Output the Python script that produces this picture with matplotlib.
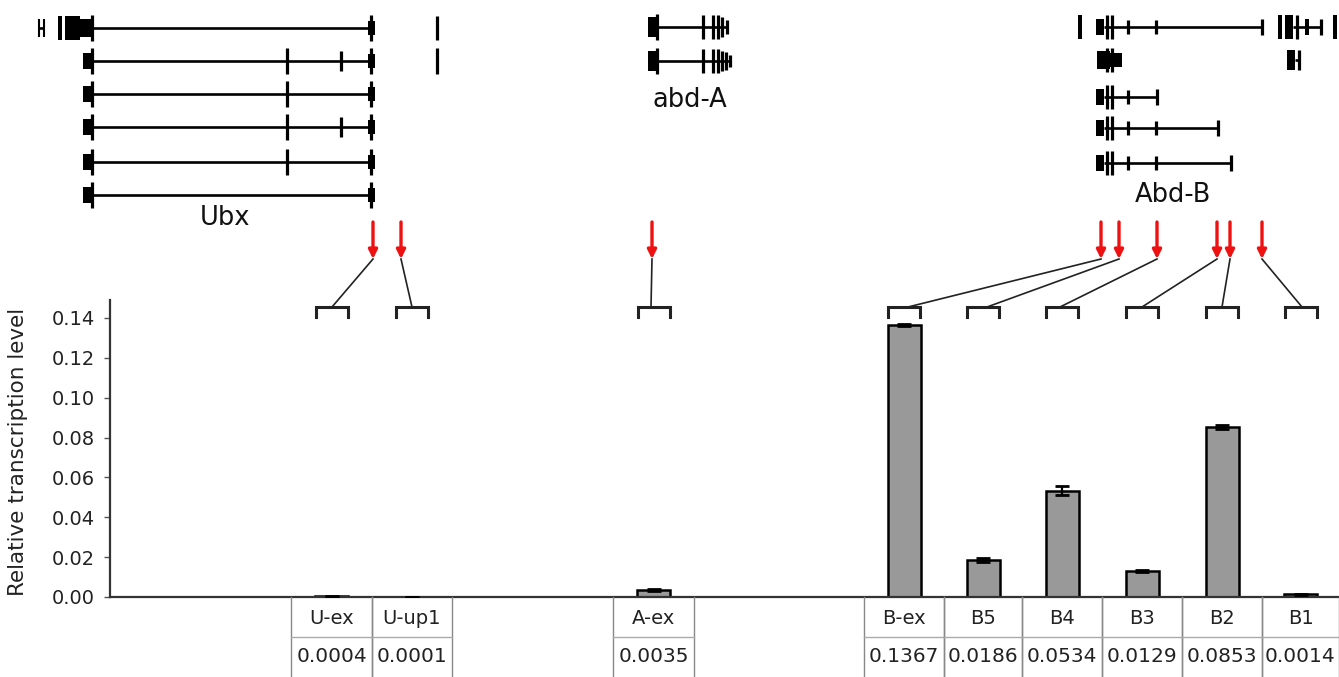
import matplotlib
matplotlib.use("Agg")
import matplotlib.pyplot as plt
from matplotlib.patches import Rectangle

W, H = 1339, 677

# data
labels = ["U-ex", "U-up1", "A-ex", "B-ex", "B5", "B4", "B3", "B2", "B1"]
values = [0.0004, 0.0001, 0.0035, 0.1367, 0.0186, 0.0534, 0.0129, 0.0853, 0.0014]
errors = [0.0002, 0.0001, 0.0006, 0.0005, 0.0009, 0.0021, 0.0004, 0.0008, 0.0002]
yticks = [0.00, 0.02, 0.04, 0.06, 0.08, 0.10, 0.12, 0.14]
ylabel = "Relative transcription level"

# layout (pixel coordinates of the figure)
col_left = [291, 372, 613, 864, 944, 1022, 1102, 1182, 1262]
col_right = [372, 452, 694, 944, 1022, 1102, 1182, 1262, 1339]
arrow_x = [373, 401, 652, 1101, 1119, 1157, 1217, 1230, 1262]
link_x = [332, 412, 651, 908, 987, 1060, 1142, 1222, 1302]
bar_w = 33
ax_left, ax_bottom, ax_top = 110, 597, 300
ymax = 0.149

# gene models: (kind, ...) per transcript row
ubx_y = [28, 61, 94, 127, 162, 195]
ubx_rows = []
for i, y in enumerate(ubx_y):
    feats = [("line", 92, 372), ("box", 83, 92, 8), ("tick", 92, 13),
             ("box", 368, 375, 7), ("tick", 371, 13)]
    if i == 0:
        feats += [("thin", 39, 9), ("thin", 44, 9), ("line", 39, 44),
                  ("box", 58, 62, 12), ("box", 65, 80, 12), ("box", 80, 92, 9),
                  ("tick", 437, 12)]
    if i == 1:
        feats += [("tick", 437, 13)]
    if 1 <= i <= 4:
        feats += [("tick", 287, 13)]
    if i in (1, 3):
        feats += [("tick", 341, 10)]
    ubx_rows.append((y, feats))

abda_rows = [
    (27, [("line", 657, 727), ("box", 648, 657, 10), ("tick", 657, 13),
          ("tick", 703, 12), ("tick", 713, 12), ("tick", 718, 12),
          ("tick", 722, 10), ("tick", 727, 7)]),
    (61, [("line", 657, 730), ("box", 648, 657, 10), ("tick", 657, 13),
          ("tick", 703, 12), ("tick", 713, 12), ("tick", 718, 12),
          ("tick", 722, 10), ("tick", 726, 9), ("tick", 730, 6)]),
]

abdb_rows = [
    (27, [("box", 1078, 1082, 12), ("line", 1104, 1262), ("box", 1096, 1104, 8),
          ("tick", 1107, 12), ("tick", 1112, 12), ("tick", 1128, 7),
          ("tick", 1156, 7), ("tick", 1262, 8), ("box", 1278, 1282, 12),
          ("box", 1285, 1293, 12), ("tick", 1297, 12), ("line", 1293, 1321),
          ("box", 1305, 1309, 8), ("tick", 1321, 8), ("box", 1333, 1337, 12)]),
    (60, [("box", 1097, 1110, 9), ("box", 1110, 1122, 7), ("tick", 1107, 12),
          ("tick", 1112, 12), ("box", 1287, 1295, 10), ("line", 1295, 1299),
          ("tick", 1299, 10)]),
]
for y, end, long_ in [(97, 1157, False), (128, 1218, True), (163, 1231, True)]:
    feats = [("line", 1104, end), ("box", 1096, 1104, 8), ("tick", 1107, 12),
             ("tick", 1112, 12), ("tick", 1128, 7), ("tick", end, 8)]
    if long_:
        feats.append(("tick", 1156, 7))
    abdb_rows.append((y, feats))

gene_labels = [("Ubx", 225, 218), ("abd-A", 690, 100), ("Abd-B", 1173, 195)]

fig = plt.figure(figsize=(W / 100, H / 100), dpi=100)
fig.patch.set_facecolor("white")

# bar chart, x data units = figure pixels
ax = fig.add_axes([ax_left / W, (H - ax_bottom) / H, (W - ax_left) / W,
                   (ax_bottom - ax_top) / H])
centers = [(l + r) / 2 for l, r in zip(col_left, col_right)]
ax.bar(centers, values, width=bar_w, color="#999999", edgecolor="black",
       linewidth=1.8, zorder=2)
ax.errorbar(centers, values, yerr=errors, fmt="none", ecolor="black",
            elinewidth=1.6, capsize=5, capthick=2, zorder=3)
ax.set_xlim(ax_left, W)
ax.set_ylim(0, ymax)
ax.set_yticks(yticks)
ax.set_yticklabels([f"{t:.2f}" for t in yticks], fontsize=14, color="#222222")
ax.set_xticks([])
ax.tick_params(axis="y", direction="out", length=4, width=1, color="#555555", pad=7)
for s in ("top", "right"):
    ax.spines[s].set_visible(False)
ax.spines["left"].set_color("#333333")
ax.spines["bottom"].set_color("#333333")
ax.spines["left"].set_linewidth(1.6)
ax.spines["bottom"].set_linewidth(1.6)
ax.set_facecolor("none")
fig.text(18 / W, 1 - 452 / H, ylabel, rotation=90, ha="center", va="center",
         fontsize=15.5, color="#222222")

# overlay for diagram and table
ov = fig.add_axes([0, 0, 1, 1])
ov.set_xlim(0, W)
ov.set_ylim(H, 0)
ov.axis("off")
ov.patch.set_visible(False)


def draw_rows(rows):
    for y, feats in rows:
        for f in feats:
            if f[0] == "line":
                ov.plot([f[1], f[2]], [y, y], color="black", lw=1.9,
                        solid_capstyle="butt")
            elif f[0] == "box":
                ov.add_patch(Rectangle((f[1], y - f[3]), f[2] - f[1], 2 * f[3],
                                       facecolor="black", edgecolor="none"))
            elif f[0] in ("tick", "thin"):
                ov.plot([f[1], f[1]], [y - f[2], y + f[2]], color="black",
                        lw=2.3 if f[0] == "tick" else 1.5, solid_capstyle="butt")


draw_rows(ubx_rows)
draw_rows(abda_rows)
draw_rows(abdb_rows)
for txt, x, y in gene_labels:
    ov.text(x, y, txt, ha="center", va="center", fontsize=18.5, color="#111111")

# arrows, connectors, brackets
for xa, xl, c in zip(arrow_x, link_x, centers):
    ov.annotate("", xy=(xa, 259), xytext=(xa, 222),
                arrowprops=dict(arrowstyle="-|>", color="#ee1111", lw=2.4,
                                mutation_scale=13, shrinkA=0, shrinkB=0))
    ov.plot([xa, xl], [259, 307], color="#222222", lw=1.2)
    ov.plot([c - 16, c - 16, c + 16, c + 16], [317, 307, 307, 317],
            color="#222222", lw=2.2, solid_joinstyle="miter")

# data table under the axis
for l, r, lab, v in zip(col_left, col_right, labels, values):
    for x in (l, r):
        ov.plot([x, x], [597, H], color="#888888", lw=1)
    ov.plot([l, r], [637, 637], color="#aaaaaa", lw=1)
    ov.text((l + r) / 2, 618, lab, ha="center", va="center", fontsize=14,
            color="#222222")
    ov.text((l + r) / 2, 657, f"{v:.4f}", ha="center", va="center",
            fontsize=14.5, color="#222222")

fig.savefig("out.png", dpi=100)
